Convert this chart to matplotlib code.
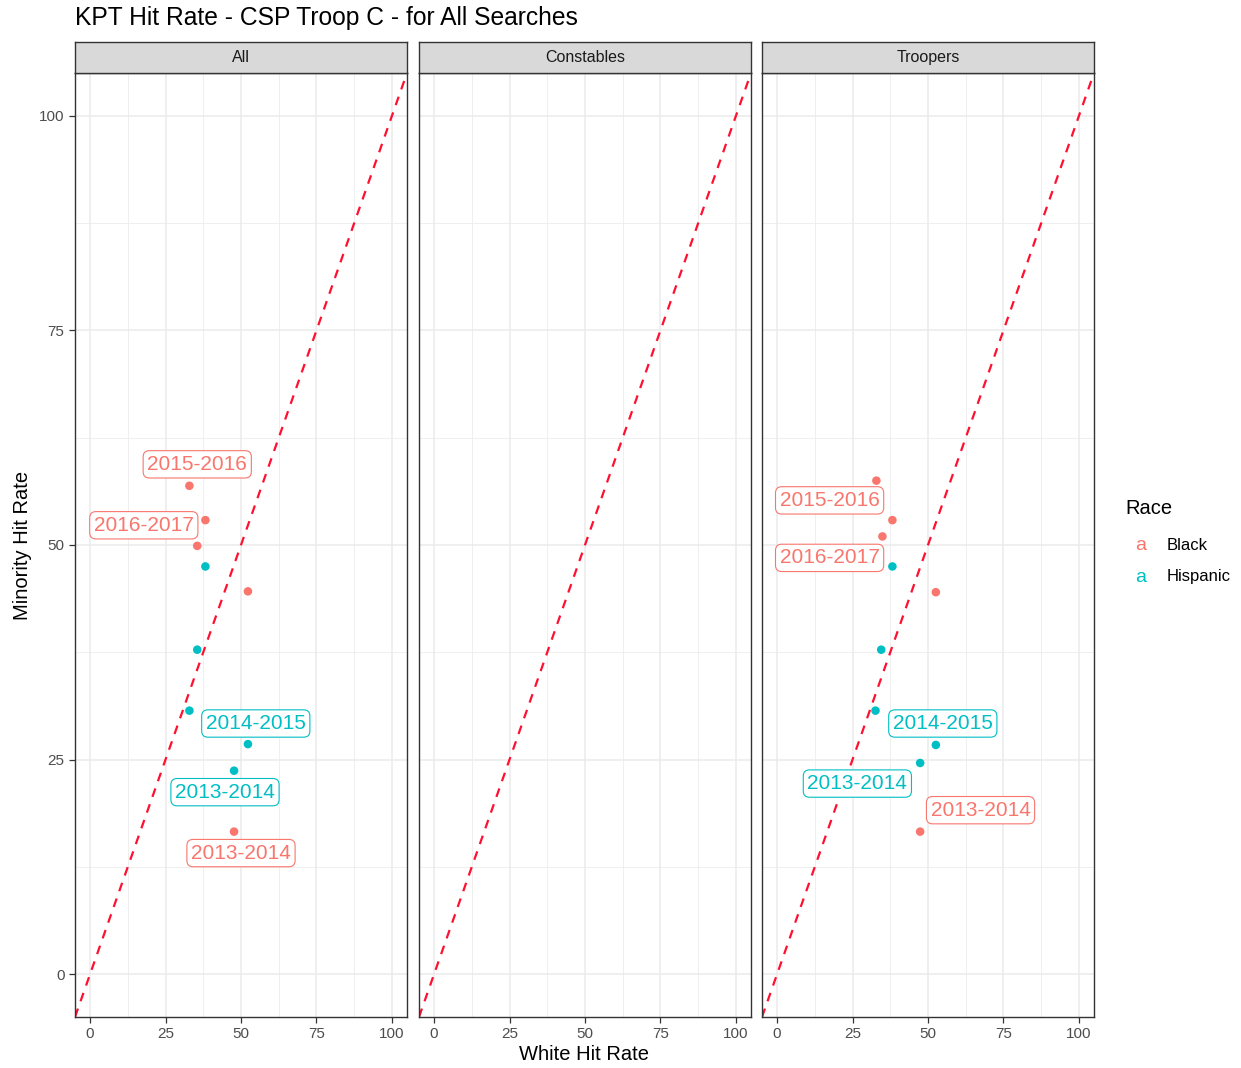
import matplotlib
matplotlib.use("Agg")
import matplotlib.pyplot as plt
from matplotlib.ticker import MultipleLocator

plt.rcParams['font.family'] = ['Liberation Sans', 'DejaVu Sans']

# facet panels
panels = ["All", "Constables", "Troopers"]
races = ["Black", "Hispanic"]
race_colors = {"Black": "#F8766D", "Hispanic": "#00BFC4"}
years = ["2013-2014", "2014-2015", "2015-2016", "2016-2017", "2017-2018"]

# white hit rate / minority hit rate per panel and race (by year)
white_rate = {
    ("All", "Black"):       [47.7, 52.3, 32.9, 38.2, 35.5],
    ("All", "Hispanic"):    [47.7, 52.3, 32.9, 38.2, 35.5],
    ("Troopers", "Black"):    [47.4, 52.6, 32.9, 38.2, 34.9],
    ("Troopers", "Hispanic"): [47.4, 52.6, 32.6, 38.2, 34.5],
}
minority_rate = {
    ("All", "Black"):       [16.6, 44.6, 56.9, 52.9, 49.9],
    ("All", "Hispanic"):    [23.7, 26.8, 30.7, 47.5, 37.8],
    ("Troopers", "Black"):    [16.6, 44.5, 57.5, 52.9, 51.0],
    ("Troopers", "Hispanic"): [24.6, 26.7, 30.7, 47.5, 37.8],
}

# labelled points: (panel, race, year index, label x, label y)
labels = [
    ("All", "Black", 2, 35.5, 59.4),
    ("All", "Black", 3, 17.8, 52.3),
    ("All", "Hispanic", 1, 54.9, 29.2),
    ("All", "Hispanic", 0, 44.7, 21.2),
    ("All", "Black", 0, 50.0, 14.1),
    ("Troopers", "Black", 2, 17.4, 55.2),
    ("Troopers", "Black", 3, 17.4, 48.5),
    ("Troopers", "Hispanic", 1, 54.9, 29.2),
    ("Troopers", "Hispanic", 0, 26.6, 22.2),
    ("Troopers", "Black", 0, 67.4, 19.1),
]

fig = plt.figure(figsize=(12.41, 10.68), dpi=100)
W, H = 1241, 1068
lefts = [75, 419, 762]
pw = 332
ptop, pbot = 73, 1017
strip_h = 31

grid_col = "#EBEBEB"
for i, name in enumerate(panels):
    ax = fig.add_axes([lefts[i] / W, 1 - pbot / H, pw / W, (pbot - ptop) / H])
    ax.set_xlim(-5, 105)
    ax.set_ylim(-5, 105)
    ax.xaxis.set_major_locator(MultipleLocator(25))
    ax.yaxis.set_major_locator(MultipleLocator(25))
    ax.xaxis.set_minor_locator(MultipleLocator(12.5))
    ax.yaxis.set_minor_locator(MultipleLocator(12.5))
    ax.grid(which="major", color=grid_col, lw=1.1)
    ax.grid(which="minor", color=grid_col, lw=0.55)
    ax.set_axisbelow(True)
    for s in ax.spines.values():
        s.set_color("#333333")
        s.set_linewidth(1.0)
    ax.tick_params(which="minor", length=0)
    ax.tick_params(which="major", length=4, color="#333333", labelcolor="#4D4D4D",
                   labelsize=11, width=0.9)
    if i > 0:
        ax.tick_params(axis="y", labelleft=False, length=0)
    ax.plot([-5, 105], [-5, 105], ls=(0, (4, 3.5)), color="#FF1030", lw=1.6, zorder=2)

    for race in races:
        key = (name, race)
        if key in white_rate:
            ax.scatter(white_rate[key], minority_rate[key], s=38,
                       color=race_colors[race], zorder=3, edgecolors="none")

    for p, race, yi, lx, ly in labels:
        if p != name:
            continue
        ax.text(lx, ly, years[yi], ha="center", va="center", fontsize=15,
                color=race_colors[race], zorder=4,
                bbox=dict(boxstyle="round,pad=0.2,rounding_size=0.3", fc="white",
                          ec=race_colors[race], lw=0.8))

    # strip
    sax = fig.add_axes([lefts[i] / W, 1 - ptop / H, pw / W, strip_h / H])
    sax.set_facecolor("#D9D9D9")
    sax.set_xticks([])
    sax.set_yticks([])
    for s in sax.spines.values():
        s.set_color("#333333")
        s.set_linewidth(1.0)
    sax.text(0.5, 0.5, name, ha="center", va="center", fontsize=11.5, color="#1A1A1A",
             transform=sax.transAxes)

fig.text(75 / W, 1 - 18 / H, "KPT Hit Rate - CSP Troop C - for All Searches",
         ha="left", va="center", fontsize=17.7, color="black")
fig.text(584 / W, 1 - 1055 / H, "White Hit Rate", ha="center", va="center",
         fontsize=14.5)
fig.text(22 / W, 1 - 545 / H, "Minority Hit Rate", ha="center", va="center",
         rotation=90, fontsize=14.5)

# legend
fig.text(1125 / W, 1 - 509 / H, "Race", ha="left", va="center", fontsize=14.5)
for j, race in enumerate(races):
    yy = 1 - (545 + 32 * j) / H
    fig.text(1141 / W, yy, "a", ha="center", va="center", fontsize=14,
             color=race_colors[race])
    fig.text(1167 / W, yy, race, ha="left", va="center", fontsize=12)

fig.savefig("out.png", dpi=100)
